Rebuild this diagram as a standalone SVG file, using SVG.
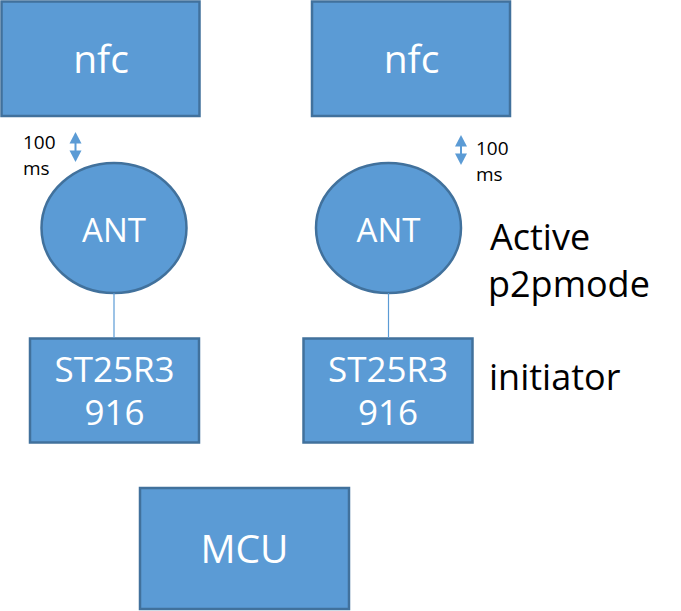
<svg xmlns="http://www.w3.org/2000/svg" width="681" height="611" viewBox="0 0 681 611">
<style>
.box{fill:#5B9BD5;stroke:#41719C;stroke-width:2.5}
.lbl{font-family:"Open Sans","Noto Sans","DejaVu Sans",sans-serif;fill:#FFFFFF;text-anchor:middle}
.blk{font-family:"Open Sans","Noto Sans","DejaVu Sans",sans-serif;fill:#000000}
.conn{stroke:#5B9BD5;stroke-width:1.2;fill:none}
.arr{fill:#5B9BD5}
</style>
<rect width="681" height="611" fill="#FFFFFF"/>
<g id="nfc-left"><rect class="box" x="1.5" y="1.5" width="198" height="114.5"/><text class="lbl" x="101" y="73" font-size="39">nfc</text></g>
<g id="nfc-right"><rect class="box" x="312" y="1.5" width="198" height="114.5"/><text class="lbl" x="411.5" y="73" font-size="39">nfc</text></g>
<g id="ant-left"><ellipse class="box" cx="114" cy="228" rx="72.5" ry="65"/><text class="lbl" x="114" y="242" font-size="33">ANT</text></g>
<g id="ant-right"><ellipse class="box" cx="388.5" cy="228" rx="72.5" ry="65"/><text class="lbl" x="388.5" y="242" font-size="33">ANT</text></g>
<g id="st-left"><rect class="box" x="30" y="338.5" width="169" height="104"/><text class="lbl" x="114.5" y="382" font-size="35">ST25R3</text><text class="lbl" x="114.5" y="425" font-size="35">916</text></g>
<g id="st-right"><rect class="box" x="303.5" y="338.5" width="169" height="104"/><text class="lbl" x="388" y="382" font-size="35">ST25R3</text><text class="lbl" x="388" y="425" font-size="35">916</text></g>
<g id="mcu"><rect class="box" x="140" y="488" width="209" height="121"/><text class="lbl" x="244.5" y="563" font-size="39">MCU</text></g>
<g id="connectors">
<line class="conn" x1="114" y1="293" x2="114" y2="338"/>
<line class="conn" x1="388.5" y1="293" x2="388.5" y2="338"/>
<g id="arrow-left"><polygon class="arr" points="75.5,132 69.5,143.5 81.5,143.5"/><rect class="arr" x="74.5" y="143" width="2" height="8"/><polygon class="arr" points="69.5,150.5 81.5,150.5 75.5,162"/></g>
<g id="arrow-right"><polygon class="arr" points="461,135 455,146.5 467,146.5"/><rect class="arr" x="460" y="146" width="2" height="8"/><polygon class="arr" points="455,153.5 467,153.5 461,165"/></g>
</g>
<g id="labels">
<text class="blk" x="23" y="149" font-size="19">100</text>
<text class="blk" x="23" y="175" font-size="19">ms</text>
<text class="blk" x="476" y="155" font-size="19">100</text>
<text class="blk" x="476" y="181" font-size="19">ms</text>
<text class="blk" x="490" y="250" font-size="36">Active</text>
<text class="blk" x="488" y="297" font-size="36">p2pmode</text>
<text class="blk" x="489" y="390" font-size="36">initiator</text>
</g>
</svg>
